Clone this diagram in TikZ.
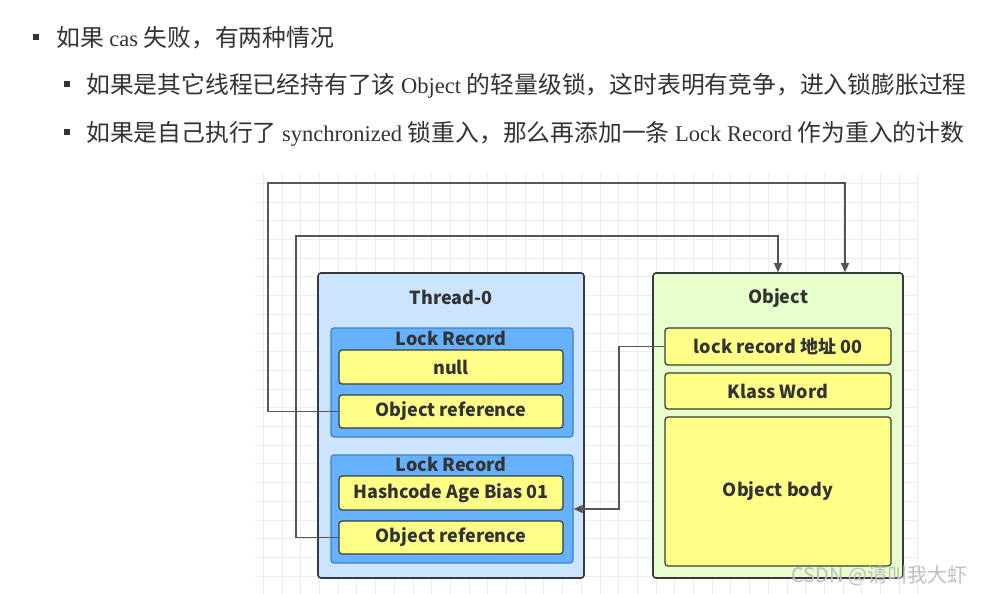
\documentclass[tikz,border=0pt]{standalone}
\usepackage{fontspec}
\setmainfont{Liberation Serif}
\newfontfamily\cjk{Noto Sans CJK SC}
\usetikzlibrary{arrows.meta,positioning}
\definecolor{Ink}{HTML}{333333}
\definecolor{Edge}{HTML}{36393D}
\definecolor{ThreadBlue}{HTML}{CCE5FF}
\definecolor{RecordBlue}{HTML}{66B2FF}
\definecolor{RecordEdge}{HTML}{3F7FC4}
\definecolor{FieldYellow}{HTML}{FFFF88}
\definecolor{ObjGreen}{HTML}{E6FFCC}
\definecolor{Wire}{HTML}{555555}
\definecolor{GridLine}{HTML}{ECECEC}
\newcommand{\zh}[1]{{\cjk\fontsize{23.8}{28}\selectfont #1}}
\newcommand{\diagfont}{\cjk\bfseries\fontsize{18}{20}\selectfont}
\newcommand{\linefont}{\fontsize{22.5}{28}\selectfont}
\tikzset{
  outerbox/.style={draw=Edge,line width=1.6pt,rounded corners=3pt,
    minimum width=266pt,minimum height=305pt},
  recordbox/.style={draw=RecordEdge,fill=RecordBlue,line width=1.2pt,
    rounded corners=3pt,minimum width=242pt},
  fieldbox/.style={draw=Edge,fill=FieldYellow,line width=1.2pt,
    rounded corners=3pt,minimum width=224pt,font=\diagfont,text=Ink},
  boxtitle/.style={font=\diagfont,text=Ink},
  wire/.style={draw=Wire,line width=1.2pt,-{Triangle[length=9pt,width=8pt]}},
  bulletline/.style={anchor=base west,font=\linefont,text=Ink,inner sep=0pt},
  bulletmark/.style={fill=Ink,minimum size=6pt,inner sep=0pt}
}

\begin{document}
\begin{tikzpicture}[x=1pt,y=-1pt]
    \useasboundingbox (0,0) rectangle (983,594);
    \fill[white] (0,0) rectangle (983,594);

    % grid behind the diagram
    \foreach \k in {0,...,35}
      \draw[GridLine,line width=0.8pt] ({263.3+\k*18.7},173) -- ({263.3+\k*18.7},594);
    \foreach \k in {0,...,21}
      \draw[GridLine,line width=0.8pt] (255,{183.3+\k*18.7}) -- (918,{183.3+\k*18.7});

    % bullet text
    \node[bulletmark] (b1) at (36,37) {};
    \node[bulletmark] (b2) at (67,84) {};
    \node[bulletmark] (b3) at (67,132) {};
    \node[bulletline] (l1) at (56,47)
      {\zh{如果} cas \zh{失败，有两种情况}};
    \node[bulletline] (l2) at (86,93)
      {\zh{如果是其它线程已经持有了该} Object \zh{的轻量级锁，这时表明有竞争，进入锁膨胀过程}};
    \node[bulletline] (l3) at (86,141)
      {\zh{如果是自己执行了} synchronized \zh{锁重入，那么再添加一条} Lock Record \zh{作为重入的计数}};

    % thread side
    \node[outerbox,fill=ThreadBlue] (thread) at (451,425.5) {};
    \node[boxtitle] (threadt) at (451,297) {Thread-0};
    \node[recordbox,minimum height=109pt] (lr1) at (452,382.5) {};
    \node[boxtitle] (lr1t) at (451,338) {Lock Record};
    \node[fieldbox,minimum height=34pt] (null) at (451,367) {null};
    \node[fieldbox,minimum height=33pt] (ref1) at (451,411.5) {Object reference};
    \node[recordbox,minimum height=108pt] (lr2) at (452,509) {};
    \node[boxtitle] (lr2t) at (451,464) {Lock Record};
    \node[fieldbox,minimum height=34pt] (hash) at (451,493) {Hashcode Age Bias 01};
    \node[fieldbox,minimum height=33pt] (ref2) at (451,537.5) {Object reference};

    % object side
    \node[outerbox,fill=ObjGreen,minimum width=250pt] (obj) at (778,425.5) {};
    \node[boxtitle] (objt) at (778,298.5) {Object};
    \node[fieldbox,minimum width=226pt,minimum height=37pt] (lockw) at (778,346.5) {lock record 地址 00};
    \node[fieldbox,minimum width=226pt,minimum height=36pt] (klass) at (778,391) {Klass Word};
    \node[fieldbox,minimum width=226pt,minimum height=149pt] (body) at (778,491.5) {Object body};

    % references
    \coordinate (up1) at (268,183);
    \coordinate (up2) at (296,236);
    \coordinate (drop) at (619,346.5);
    \draw[wire] (ref1.west) -| (up1) -| ([xshift=67pt]obj.north);
    \draw[wire] (ref2.west) -| (up2) -| (obj.north);
    \draw[wire] (lockw.west) -- (drop) |- (lr2.east);

    \node[anchor=west,font=\cjk\fontsize{20}{22}\selectfont,text=gray!50] (mark) at (788,576)
      {CSDN @请叫我大虾};
  \end{tikzpicture}
\end{document}
